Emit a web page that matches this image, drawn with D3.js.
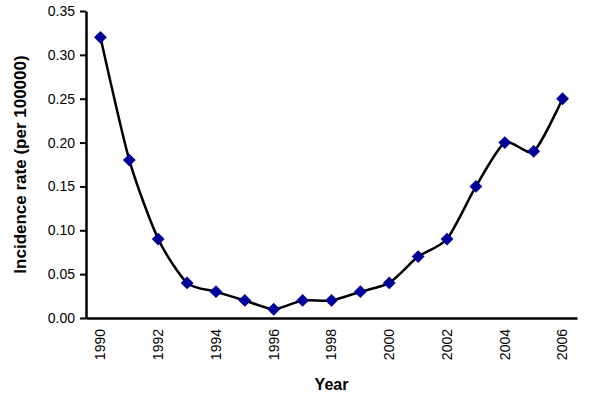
<!DOCTYPE html>
<html>
<head>
<meta charset="utf-8">
<script src="https://cdn.jsdelivr.net/npm/d3@7"></script>
<style>
  body { margin: 0; background: #fff; }
  text { font-family: Arial, "Liberation Sans", sans-serif; }
</style>
</head>
<body>
<div id="chart"></div>
<script>
// data
var years = [1990, 1991, 1992, 1993, 1994, 1995, 1996, 1997, 1998, 1999, 2000, 2001, 2002, 2003, 2004, 2005, 2006];
var rates = [0.32, 0.18, 0.09, 0.04, 0.03, 0.02, 0.01, 0.02, 0.02, 0.03, 0.04, 0.07, 0.09, 0.15, 0.20, 0.19, 0.25];
var yTicks = [0, 0.05, 0.10, 0.15, 0.20, 0.25, 0.30, 0.35];
var xLabels = [1990, 1992, 1994, 1996, 1998, 2000, 2002, 2004, 2006];

var data = years.map(function(y, i) { return {year: y, rate: rates[i]}; });

var margin = {top: 11, right: 23, bottom: 90, left: 86},
    width = 600 - margin.left - margin.right,
    height = 408 - margin.top - margin.bottom;

var svg = d3.select("#chart").append("svg")
    .attr("width", 600)
    .attr("height", 408)
  .append("g")
    .attr("transform", "translate(" + margin.left + "," + margin.top + ")");

var x = d3.scaleBand()
    .domain(years)
    .range([0, width]);

var y = d3.scaleLinear()
    .domain([0, 0.35])
    .range([height, 0]);

// y axis
var yAxis = svg.append("g")
    .call(d3.axisLeft(y).tickValues(yTicks).tickFormat(d3.format(".2f")).tickSize(6).tickSizeOuter(0));
yAxis.select(".domain").attr("stroke-width", 2.5);
yAxis.selectAll(".tick line").attr("stroke-width", 2);
yAxis.selectAll("text").style("font-size", "14px").attr("x", -11);

// x axis, no tick marks
var xAxis = svg.append("g")
    .attr("transform", "translate(0," + height + ")")
    .call(d3.axisBottom(x).tickValues(xLabels).tickSize(0).tickSizeOuter(0));
xAxis.select(".domain").attr("stroke-width", 2.5);
xAxis.selectAll("text")
    .style("font-size", "14px")
    .style("text-anchor", "end")
    .attr("transform", "rotate(-90)")
    .attr("x", -11)
    .attr("y", 0)
    .attr("dy", "0.35em");

// line
var line = d3.line()
    .x(function(d) { return x(d.year) + x.bandwidth() / 2; })
    .y(function(d) { return y(d.rate); })
    .curve(d3.curveCardinal.tension(0.3));

svg.append("path")
    .datum(data)
    .attr("fill", "none")
    .attr("stroke", "#000")
    .attr("stroke-width", 2.5)
    .attr("d", line);

// markers
svg.selectAll(".pt")
    .data(data)
    .enter().append("path")
    .attr("class", "pt")
    .attr("d", d3.symbol().type(d3.symbolDiamond2).size(105))
    .attr("transform", function(d) { return "translate(" + (x(d.year) + x.bandwidth() / 2) + "," + y(d.rate) + ")"; })
    .attr("fill", "#000099");

// axis titles
svg.append("text")
    .attr("x", width / 2)
    .attr("y", height + 72)
    .attr("text-anchor", "middle")
    .style("font-size", "16px")
    .style("font-weight", "bold")
    .text("Year");

svg.append("text")
    .attr("transform", "rotate(-90)")
    .attr("x", -height / 2)
    .attr("y", -60)
    .attr("text-anchor", "middle")
    .style("font-size", "17px")
    .style("font-weight", "bold")
    .text("Incidence rate (per 100000)");
</script>
</body>
</html>
